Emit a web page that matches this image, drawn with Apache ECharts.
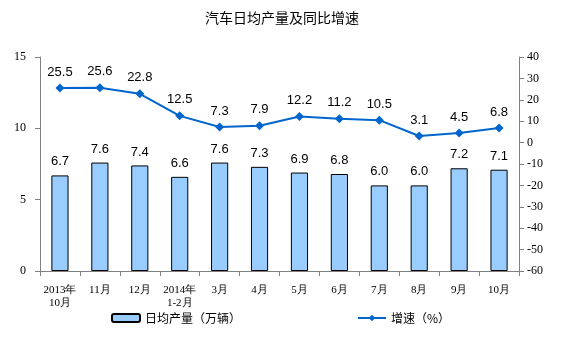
<!DOCTYPE html>
<html>
<head>
<meta charset="utf-8">
<script src="https://cdn.jsdelivr.net/npm/echarts@6/dist/echarts.min.js"></script>
<style>
  html, body { margin: 0; padding: 0; background: #fff; }
  #chart { width: 564px; height: 351px; }
</style>
</head>
<body>
<div id="chart"></div>
<script>
// 月份
const categories = ['2013年\n10月', '11月', '12月', '2014年\n1-2月', '3月', '4月', '5月', '6月', '7月', '8月', '9月', '10月']
// 日均产量（万辆）
const output = [6.7, 7.6, 7.4, 6.6, 7.6, 7.3, 6.9, 6.8, 6.0, 6.0, 7.2, 7.1]
// 增速（%）
const growth = [25.5, 25.6, 22.8, 12.5, 7.3, 7.9, 12.2, 11.2, 10.5, 3.1, 4.5, 6.8]

const chart = echarts.init(document.getElementById('chart'))
const tickText = { color: '#000', fontFamily: 'Liberation Serif', fontSize: 12 }

chart.setOption({
  animation: false,
  title: {
    text: '汽车日均产量及同比增速',
    left: 'center',
    top: 6,
    textStyle: { fontSize: 14, fontWeight: 'normal', color: '#000', fontFamily: 'Noto Sans CJK SC' }
  },
  legend: {
    bottom: 22,
    left: 106,
    itemGap: 116,
    itemWidth: 28,
    itemHeight: 8,
    textStyle: { fontSize: 12, color: '#000', fontFamily: 'Noto Sans CJK SC' },
    data: ['日均产量（万辆）', '增速（%）']
  },
  grid: { left: 40, right: 45, top: 57, bottom: 80 },
  xAxis: {
    type: 'category',
    data: categories,
    axisLine: { lineStyle: { color: '#808080' } },
    axisTick: { show: true, lineStyle: { color: '#808080' } },
    axisLabel: Object.assign({ interval: 0, lineHeight: 13, margin: 13 }, tickText, { fontSize: 11 })
  },
  yAxis: [{
    type: 'value',
    min: 0,
    max: 15,
    interval: 5,
    splitLine: { show: false },
    axisLine: { show: true, lineStyle: { color: '#808080' } },
    axisTick: { show: true, lineStyle: { color: '#808080' } },
    axisLabel: Object.assign({ margin: 14 }, tickText)
  }, {
    type: 'value',
    min: -60,
    max: 40,
    interval: 10,
    splitLine: { show: false },
    axisLine: { show: true, lineStyle: { color: '#808080' } },
    axisTick: { show: true, lineStyle: { color: '#808080' } },
    axisLabel: Object.assign({ margin: 8 }, tickText)
  }],
  series: [{
    name: '日均产量（万辆）',
    type: 'bar',
    data: output,
    barWidth: '43%',
    itemStyle: { color: '#99ccff', borderColor: '#000', borderWidth: 1 },
    label: {
      show: true,
      position: 'top',
      distance: 7,
      color: '#000',
      fontSize: 13,
      fontFamily: 'Liberation Sans',
      formatter: p => p.value.toFixed(1)
    }
  }, {
    name: '增速（%）',
    type: 'line',
    yAxisIndex: 1,
    data: growth,
    symbol: 'diamond',
    symbolSize: 9,
    lineStyle: { color: '#0066cc', width: 2 },
    itemStyle: { color: '#0066cc' },
    label: {
      show: true,
      position: 'top',
      distance: 5,
      color: '#000',
      fontSize: 13,
      fontFamily: 'Liberation Sans',
      formatter: p => p.value.toFixed(1)
    }
  }]
})
</script>
</body>
</html>
